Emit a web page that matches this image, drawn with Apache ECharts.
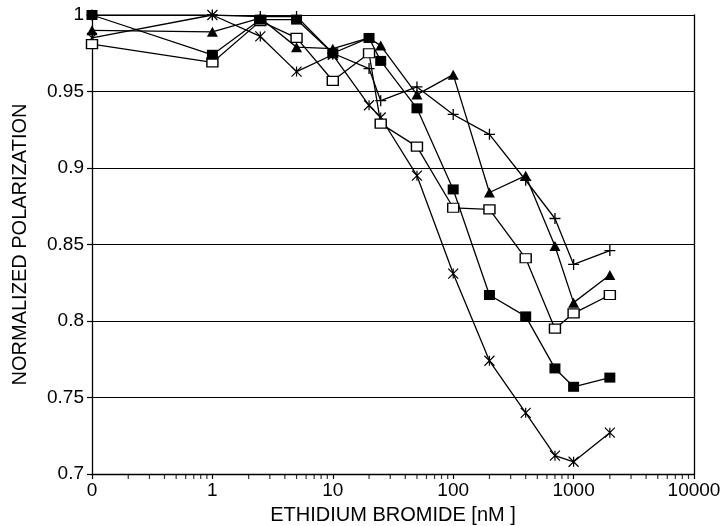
<!DOCTYPE html>
<html>
<head>
<meta charset="utf-8">
<script src="https://cdn.jsdelivr.net/npm/echarts@6/dist/echarts.min.js"></script>
<style>html,body{margin:0;padding:0;background:#fff;}#c{width:726px;height:526px;}</style>
</head>
<body>
<div id="c"></div>
<script>
// concentration (nM); the "0" concentration is drawn at 0.1 on the log axis
var xValues = [0.1, 1, 2.5, 5, 10, 20, 25, 50, 100, 200, 400, 700, 1000, 2000];
var filledSquare = [1.000, 0.974, 0.997, 0.997, 0.975, 0.985, 0.970, 0.939, 0.886, 0.817, 0.803, 0.769, 0.757, 0.763];
var openSquare   = [0.981, 0.969, 0.996, 0.985, 0.957, 0.975, 0.929, 0.914, 0.874, 0.873, 0.841, 0.795, 0.805, 0.817];
var triangle     = [0.990, 0.989, 0.998, 0.979, 0.978, 0.985, 0.980, 0.948, 0.961, 0.884, 0.895, 0.849, 0.812, 0.830];
var plus         = [1.000, 1.000, 0.999, 0.999, 0.975, 0.965, 0.944, 0.953, 0.935, 0.922, 0.892, 0.867, 0.837, 0.846];
var asterisk     = [0.985, 1.000, 0.986, 0.963, 0.974, 0.941, 0.933, 0.895, 0.831, 0.774, 0.740, 0.712, 0.708, 0.727];
var yTicks = [0.7, 0.75, 0.8, 0.85, 0.9, 0.95, 1];
var xTickLabels = ['0', '1', '10', '100', '1000', '10000'];
var xTitle = 'ETHIDIUM BROMIDE [nM ]';
var yTitle = 'NORMALIZED POLARIZATION';

var decades = [0.1, 1, 10, 100, 1000];
var minorTicks = [];
decades.forEach(function (d) { for (var k = 2; k <= 9; k++) minorTicks.push([+(d * k).toPrecision(6), 0.7]); });

function pairs(ys) { return xValues.map(function (x, i) { return [x, ys[i]]; }); }

var FONT = 'Liberation Sans, Arial, sans-serif';
var lineStyle = { color: '#000', width: 1.3 };
function mk(name, data, symbol, size, fill, border) {
  return {
    name: name, type: 'line', data: pairs(data), symbol: symbol, symbolSize: size,
    lineStyle: lineStyle, z: 3,
    itemStyle: { color: fill, borderColor: '#000', borderWidth: border, opacity: 1 },
    emphasis: { disabled: true }, animation: false
  };
}

var chart = echarts.init(document.getElementById('c'), null, { renderer: 'canvas' });
chart.setOption({
  animation: false,
  backgroundColor: '#fff',
  grid: { left: 92, right: 32, top: 15, bottom: 52, containLabel: false, outerBoundsMode: 'none' },
  xAxis: {
    type: 'log', logBase: 10, min: 0.1, max: 10000,
    name: xTitle, nameLocation: 'middle', nameGap: 31,
    nameTextStyle: { fontFamily: FONT, fontSize: 20, color: '#000' },
    axisLine: { show: true, onZero: false, lineStyle: { color: '#000', width: 1.3 } },
    axisTick: { show: true, inside: false, length: 5, lineStyle: { color: '#000', width: 1.2 } },
    axisLabel: {
      fontFamily: FONT, fontSize: 19, color: '#000', margin: 7,
      formatter: function (v) {
        var i = Math.round(Math.log10(v)) + 1;
        return xTickLabels[i] !== undefined ? xTickLabels[i] : '';
      }
    },
    splitLine: { show: false }
  },
  yAxis: [{
    type: 'value', min: 0.7, max: 1, interval: 0.05,
    name: yTitle, nameLocation: 'middle', nameGap: 62, nameRotate: 90,
    nameTextStyle: { fontFamily: FONT, fontSize: 20, color: '#000' },
    axisLine: { show: true, lineStyle: { color: '#000', width: 1.3 } },
    axisTick: { show: true, inside: false, length: 5, lineStyle: { color: '#000', width: 1.2 } },
    axisLabel: {
      fontFamily: FONT, fontSize: 19, color: '#000', margin: 8,
      formatter: function (v) {
        for (var i = 0; i < yTicks.length; i++) if (Math.abs(yTicks[i] - v) < 1e-6) return String(yTicks[i]);
        return '';
      }
    },
    splitLine: { show: true, lineStyle: { color: '#000', width: 1.1 } }
  }, {
    type: 'value', min: 0.7, max: 1, interval: 0.05, position: 'right',
    axisLine: { show: true, lineStyle: { color: '#000', width: 1.3 } },
    axisTick: { show: false }, axisLabel: { show: false }, splitLine: { show: false }
  }],
  series: [
    {
      type: 'scatter', data: minorTicks, symbol: 'rect', symbolSize: [1.2, 5], symbolOffset: [0, 2.5],
      itemStyle: { color: '#000' }, clip: false, silent: true, z: 1, animation: false
    },
    mk('asterisk', asterisk, 'path://M5,0L5,10M0,0L10,10M0,10L10,0', 10, 'none', 1.2),
    mk('plus', plus, 'path://M5,0L5,10M0,5L10,5', 11, 'none', 1.3),
    mk('openSquare', openSquare, 'rect', [11, 9], '#fff', 1.3),
    mk('triangle', triangle, 'triangle', [11, 10], '#000', 0),
    mk('filledSquare', filledSquare, 'rect', [11, 10], '#000', 0)
  ]
});
</script>
</body>
</html>
